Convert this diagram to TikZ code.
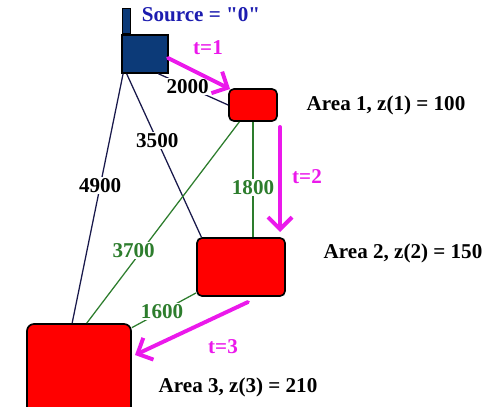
\documentclass[tikz,border=0pt]{standalone}
\usepackage{fontspec}
\setmainfont{Liberation Serif}
\usepackage{xcolor}
\usetikzlibrary{arrows.meta, positioning, calc}

\definecolor{srcblue}{RGB}{12,58,120}
\definecolor{txtblue}{RGB}{28,28,175}
\definecolor{navy}{RGB}{25,25,75}
\definecolor{pathgreen}{RGB}{45,125,45}
\definecolor{tmag}{RGB}{235,25,235}

\begin{document}
\begin{tikzpicture}[font=\bfseries\fontsize{15}{17}\selectfont,
  area/.style={rectangle, fill=red, draw=black, line width=1.2pt, rounded corners=3.5pt},
  cost/.style={fill=white, text=black, inner sep=1pt},
  gcost/.style={cost, text=pathgreen},
  link/.style={navy, line width=0.9pt},
  glink/.style={pathgreen, line width=0.9pt},
  move/.style={tmag, line width=2.8pt, line cap=round,
               -{Straight Barb[length=3mm, width=6mm]}},
  tlabel/.style={text=tmag}]
\useasboundingbox (0,0) rectangle (12.35,10.15);

% source
\node[rectangle, fill=srcblue, draw, line width=1pt, minimum width=1.15cm,
  minimum height=0.95cm] (src) at (3.625,8.8) {};
\node[rectangle, fill=srcblue, draw, line width=0.6pt, inner sep=0pt, minimum width=0.2cm,
  minimum height=0.625cm, anchor=south west] (chim) at ($(src.north west)+(0.025,0)$) {};
\node[text=txtblue] (srclbl) at (5.025,9.775) {Source = \textquotedbl0\textquotedbl};

% areas
\node[area, minimum width=1.2cm, minimum height=0.8cm] (a1) at (6.325,7.525) {};
\node[area, minimum width=2.2cm, minimum height=1.45cm] (a2) at (6.025,3.475) {};
\node[area, rounded corners=5pt, minimum width=2.6cm, minimum height=2.4cm] (a3) at (1.975,0.85) {};
\node (a1lbl) at (9.65,7.525) {Area 1, z(1) = 100};
\node (a2lbl) at (10.075,3.825) {Area 2, z(2) = 150};
\node (a3lbl) at (5.95,0.475) {Area 3, z(3) = 210};

% costs from the source
\draw[link] (src.-56) -- node[cost, pos=0.42] (c2000) {2000} (a1.west);
\draw[link] (src.-133) -- node[cost, pos=0.41] (c3500) {3500} (a2.143);
\draw[link] (src.-138) -- node[cost, pos=0.45] (c4900) {4900} (a3.98);

% costs between areas
\draw[glink] (a1.-129) -- node[gcost, pos=0.64, xshift=-0.2cm] (c3700) {3700} (a3.81);
\draw[glink] (a1.south) -- node[gcost, pos=0.57] (c1800) {1800} (a1.south |- a2.north);
\draw[glink] (a2.-150) -- node[gcost, pos=0.53] (c1600) {1600} (a3.40);

% moves
\coordinate (t1a) at (4.2,8.7);
\coordinate (t1b) at (5.75,7.925);
\coordinate (t2a) at (7.0,6.975);
\coordinate (t2b) at (7.0,4.35);
\coordinate (t3a) at (6.2,2.6);
\coordinate (t3b) at (3.375,1.275);
\draw[move] (t1a) -- (t1b);
\draw[move] (t2a) -- (t2b);
\draw[move] (t3a) -- (t3b);
\node[tlabel] (t1) at (5.2,8.95) {t=1};
\node[tlabel] (t2) at (7.675,5.725) {t=2};
\node[tlabel] (t3) at (5.575,1.475) {t=3};
\end{tikzpicture}
\end{document}
